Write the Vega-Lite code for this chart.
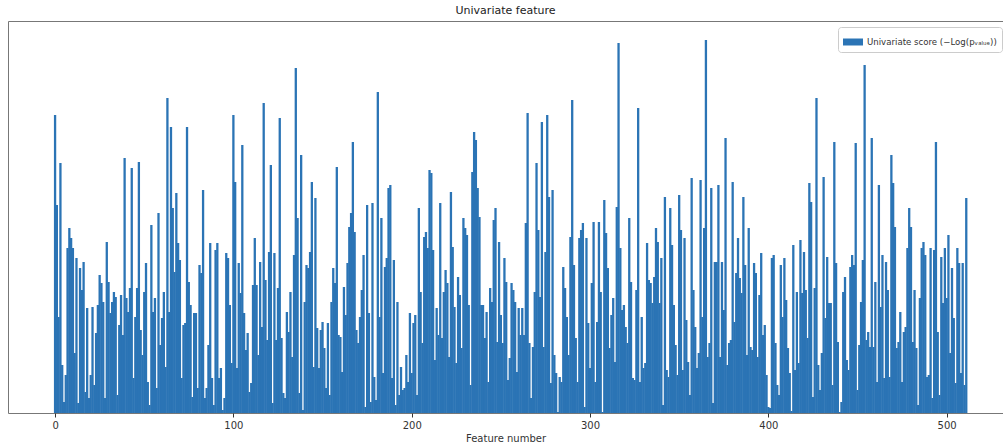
{
 "$schema": "https://vega.github.io/schema/vega-lite/v6.json",
 "width": 995,
 "height": 392,
 "autosize": {"type": "none"},
 "padding": {"left": 8, "top": 21, "right": 0, "bottom": 33},
 "background": "white",
 "title": {"text": "Univariate feature", "fontSize": 11, "font": "DejaVu Sans", "fontWeight": "normal", "color": "#222", "offset": 5},
 "data": {"values": [
{"feature":0,"score":298},{"feature":1,"score":208},{"feature":2,"score":96},{"feature":3,"score":250},{"feature":4,"score":48},{"feature":5,"score":11},{"feature":6,"score":38},{"feature":7,"score":165},{"feature":8,"score":185},{"feature":9,"score":175},
{"feature":10,"score":165},{"feature":11,"score":60},{"feature":12,"score":155},{"feature":13,"score":10},{"feature":14,"score":145},{"feature":15,"score":123},{"feature":16,"score":151},{"feature":17,"score":21},{"feature":18,"score":105},{"feature":19,"score":15},
{"feature":20,"score":38},{"feature":21,"score":106},{"feature":22,"score":28},{"feature":23,"score":80},{"feature":24,"score":108},{"feature":25,"score":138},{"feature":26,"score":130},{"feature":27,"score":111},{"feature":28,"score":15},{"feature":29,"score":171},
{"feature":30,"score":131},{"feature":31,"score":100},{"feature":32,"score":111},{"feature":33,"score":121},{"feature":34,"score":116},{"feature":35,"score":18},{"feature":36,"score":88},{"feature":37,"score":118},{"feature":38,"score":78},{"feature":39,"score":255},
{"feature":40,"score":115},{"feature":41,"score":101},{"feature":42,"score":125},{"feature":43,"score":245},{"feature":44,"score":35},{"feature":45,"score":96},{"feature":46,"score":125},{"feature":47,"score":251},{"feature":48,"score":83},{"feature":49,"score":58},
{"feature":50,"score":121},{"feature":51,"score":150},{"feature":52,"score":31},{"feature":53,"score":8},{"feature":54,"score":188},{"feature":55,"score":101},{"feature":56,"score":115},{"feature":57,"score":25},{"feature":58,"score":200},{"feature":59,"score":68},
{"feature":60,"score":95},{"feature":61,"score":121},{"feature":62,"score":46},{"feature":63,"score":315},{"feature":64,"score":101},{"feature":65,"score":286},{"feature":66,"score":205},{"feature":67,"score":141},{"feature":68,"score":220},{"feature":69,"score":170},
{"feature":70,"score":153},{"feature":71,"score":35},{"feature":72,"score":88},{"feature":73,"score":90},{"feature":74,"score":286},{"feature":75,"score":131},{"feature":76,"score":108},{"feature":77,"score":16},{"feature":78,"score":100},{"feature":79,"score":100},
{"feature":80,"score":25},{"feature":81,"score":148},{"feature":82,"score":140},{"feature":83,"score":223},{"feature":84,"score":15},{"feature":85,"score":25},{"feature":86,"score":68},{"feature":87,"score":170},{"feature":88,"score":35},{"feature":89,"score":8},
{"feature":90,"score":163},{"feature":91,"score":170},{"feature":92,"score":35},{"feature":93,"score":45},{"feature":94,"score":3},{"feature":95,"score":15},{"feature":96,"score":160},{"feature":97,"score":155},{"feature":98,"score":108},{"feature":99,"score":50},
{"feature":100,"score":298},{"feature":101,"score":231},{"feature":102,"score":45},{"feature":103,"score":150},{"feature":104,"score":120},{"feature":105,"score":268},{"feature":106,"score":100},{"feature":107,"score":63},{"feature":108,"score":80},{"feature":109,"score":21},
{"feature":110,"score":30},{"feature":111,"score":128},{"feature":112,"score":175},{"feature":113,"score":128},{"feature":114,"score":58},{"feature":115,"score":151},{"feature":116,"score":86},{"feature":117,"score":310},{"feature":118,"score":133},{"feature":119,"score":73},
{"feature":120,"score":161},{"feature":121,"score":248},{"feature":122,"score":10},{"feature":123,"score":160},{"feature":124,"score":73},{"feature":125,"score":125},{"feature":126,"score":295},{"feature":127,"score":75},{"feature":128,"score":20},{"feature":129,"score":15},
{"feature":130,"score":101},{"feature":131,"score":81},{"feature":132,"score":121},{"feature":133,"score":56},{"feature":134,"score":158},{"feature":135,"score":345},{"feature":136,"score":195},{"feature":137,"score":20},{"feature":138,"score":258},{"feature":139,"score":3},
{"feature":140,"score":111},{"feature":141,"score":148},{"feature":142,"score":145},{"feature":143,"score":161},{"feature":144,"score":231},{"feature":145,"score":46},{"feature":146,"score":215},{"feature":147,"score":85},{"feature":148,"score":45},{"feature":149,"score":83},
{"feature":150,"score":91},{"feature":151,"score":65},{"feature":152,"score":25},{"feature":153,"score":90},{"feature":154,"score":18},{"feature":155,"score":111},{"feature":156,"score":145},{"feature":157,"score":130},{"feature":158,"score":246},{"feature":159,"score":78},
{"feature":160,"score":76},{"feature":161,"score":41},{"feature":162,"score":126},{"feature":163,"score":98},{"feature":164,"score":150},{"feature":165,"score":186},{"feature":166,"score":200},{"feature":167,"score":271},{"feature":168,"score":181},{"feature":169,"score":83},
{"feature":170,"score":70},{"feature":171,"score":96},{"feature":172,"score":123},{"feature":173,"score":158},{"feature":174,"score":6},{"feature":175,"score":208},{"feature":176,"score":100},{"feature":177,"score":11},{"feature":178,"score":210},{"feature":179,"score":36},
{"feature":180,"score":13},{"feature":181,"score":321},{"feature":182,"score":96},{"feature":183,"score":195},{"feature":184,"score":40},{"feature":185,"score":146},{"feature":186,"score":155},{"feature":187,"score":225},{"feature":188,"score":228},{"feature":189,"score":35},
{"feature":190,"score":153},{"feature":191,"score":8},{"feature":192,"score":111},{"feature":193,"score":18},{"feature":194,"score":46},{"feature":195,"score":23},{"feature":196,"score":25},{"feature":197,"score":58},{"feature":198,"score":31},{"feature":199,"score":100},
{"feature":200,"score":40},{"feature":201,"score":90},{"feature":202,"score":98},{"feature":203,"score":18},{"feature":204,"score":205},{"feature":205,"score":121},{"feature":206,"score":70},{"feature":207,"score":176},{"feature":208,"score":181},{"feature":209,"score":165},
{"feature":210,"score":243},{"feature":211,"score":240},{"feature":212,"score":163},{"feature":213,"score":53},{"feature":214,"score":105},{"feature":215,"score":78},{"feature":216,"score":210},{"feature":217,"score":75},{"feature":218,"score":121},{"feature":219,"score":143},
{"feature":220,"score":130},{"feature":221,"score":56},{"feature":222,"score":221},{"feature":223,"score":166},{"feature":224,"score":106},{"feature":225,"score":50},{"feature":226,"score":136},{"feature":227,"score":118},{"feature":228,"score":65},{"feature":229,"score":195},
{"feature":230,"score":185},{"feature":231,"score":178},{"feature":232,"score":108},{"feature":233,"score":28},{"feature":234,"score":241},{"feature":235,"score":281},{"feature":236,"score":273},{"feature":237,"score":225},{"feature":238,"score":196},{"feature":239,"score":108},
{"feature":240,"score":108},{"feature":241,"score":75},{"feature":242,"score":101},{"feature":243,"score":31},{"feature":244,"score":125},{"feature":245,"score":111},{"feature":246,"score":193},{"feature":247,"score":205},{"feature":248,"score":71},{"feature":249,"score":171},
{"feature":250,"score":98},{"feature":251,"score":70},{"feature":252,"score":155},{"feature":253,"score":131},{"feature":254,"score":33},{"feature":255,"score":55},{"feature":256,"score":130},{"feature":257,"score":123},{"feature":258,"score":111},{"feature":259,"score":41},
{"feature":260,"score":105},{"feature":261,"score":78},{"feature":262,"score":105},{"feature":263,"score":78},{"feature":264,"score":190},{"feature":265,"score":300},{"feature":266,"score":70},{"feature":267,"score":15},{"feature":268,"score":66},{"feature":269,"score":121},
{"feature":270,"score":250},{"feature":271,"score":183},{"feature":272,"score":116},{"feature":273,"score":291},{"feature":274,"score":66},{"feature":275,"score":161},{"feature":276,"score":298},{"feature":277,"score":216},{"feature":278,"score":30},{"feature":279,"score":223},
{"feature":280,"score":58},{"feature":281,"score":40},{"feature":282,"score":1},{"feature":283,"score":36},{"feature":284,"score":31},{"feature":285,"score":146},{"feature":286,"score":125},{"feature":287,"score":96},{"feature":288,"score":58},{"feature":289,"score":176},
{"feature":290,"score":313},{"feature":291,"score":148},{"feature":292,"score":75},{"feature":293,"score":31},{"feature":294,"score":175},{"feature":295,"score":183},{"feature":296,"score":190},{"feature":297,"score":6},{"feature":298,"score":175},{"feature":299,"score":90},
{"feature":300,"score":45},{"feature":301,"score":130},{"feature":302,"score":191},{"feature":303,"score":31},{"feature":304,"score":91},{"feature":305,"score":191},{"feature":306,"score":121},{"feature":307,"score":1},{"feature":308,"score":213},{"feature":309,"score":180},
{"feature":310,"score":145},{"feature":311,"score":65},{"feature":312,"score":98},{"feature":313,"score":115},{"feature":314,"score":51},{"feature":315,"score":206},{"feature":316,"score":370},{"feature":317,"score":165},{"feature":318,"score":103},{"feature":319,"score":108},
{"feature":320,"score":86},{"feature":321,"score":70},{"feature":322,"score":195},{"feature":323,"score":131},{"feature":324,"score":35},{"feature":325,"score":33},{"feature":326,"score":123},{"feature":327,"score":305},{"feature":328,"score":31},{"feature":329,"score":96},
{"feature":330,"score":45},{"feature":331,"score":50},{"feature":332,"score":170},{"feature":333,"score":133},{"feature":334,"score":130},{"feature":335,"score":110},{"feature":336,"score":136},{"feature":337,"score":185},{"feature":338,"score":171},{"feature":339,"score":110},
{"feature":340,"score":155},{"feature":341,"score":8},{"feature":342,"score":216},{"feature":343,"score":43},{"feature":344,"score":36},{"feature":345,"score":205},{"feature":346,"score":168},{"feature":347,"score":108},{"feature":348,"score":68},{"feature":349,"score":38},
{"feature":350,"score":218},{"feature":351,"score":183},{"feature":352,"score":43},{"feature":353,"score":175},{"feature":354,"score":93},{"feature":355,"score":51},{"feature":356,"score":18},{"feature":357,"score":235},{"feature":358,"score":123},{"feature":359,"score":86},
{"feature":360,"score":45},{"feature":361,"score":60},{"feature":362,"score":233},{"feature":363,"score":96},{"feature":364,"score":185},{"feature":365,"score":373},{"feature":366,"score":56},{"feature":367,"score":70},{"feature":368,"score":225},{"feature":369,"score":10},
{"feature":370,"score":151},{"feature":371,"score":151},{"feature":372,"score":228},{"feature":373,"score":56},{"feature":374,"score":151},{"feature":375,"score":103},{"feature":376,"score":275},{"feature":377,"score":48},{"feature":378,"score":70},{"feature":379,"score":73},
{"feature":380,"score":231},{"feature":381,"score":91},{"feature":382,"score":140},{"feature":383,"score":175},{"feature":384,"score":135},{"feature":385,"score":120},{"feature":386,"score":216},{"feature":387,"score":148},{"feature":388,"score":58},{"feature":389,"score":185},
{"feature":390,"score":66},{"feature":391,"score":63},{"feature":392,"score":150},{"feature":393,"score":140},{"feature":394,"score":56},{"feature":395,"score":118},{"feature":396,"score":160},{"feature":397,"score":78},{"feature":398,"score":88},{"feature":399,"score":38},
{"feature":400,"score":6},{"feature":401,"score":5},{"feature":402,"score":155},{"feature":403,"score":158},{"feature":404,"score":70},{"feature":405,"score":28},{"feature":406,"score":18},{"feature":407,"score":148},{"feature":408,"score":96},{"feature":409,"score":155},
{"feature":410,"score":113},{"feature":411,"score":65},{"feature":412,"score":40},{"feature":413,"score":2},{"feature":414,"score":168},{"feature":415,"score":43},{"feature":416,"score":121},{"feature":417,"score":50},{"feature":418,"score":173},{"feature":419,"score":120},
{"feature":420,"score":161},{"feature":421,"score":123},{"feature":422,"score":75},{"feature":423,"score":230},{"feature":424,"score":211},{"feature":425,"score":16},{"feature":426,"score":125},{"feature":427,"score":315},{"feature":428,"score":48},{"feature":429,"score":23},
{"feature":430,"score":60},{"feature":431,"score":236},{"feature":432,"score":95},{"feature":433,"score":156},{"feature":434,"score":110},{"feature":435,"score":110},{"feature":436,"score":28},{"feature":437,"score":271},{"feature":438,"score":150},{"feature":439,"score":71},
{"feature":440,"score":1},{"feature":441,"score":11},{"feature":442,"score":121},{"feature":443,"score":136},{"feature":444,"score":53},{"feature":445,"score":43},{"feature":446,"score":146},{"feature":447,"score":158},{"feature":448,"score":148},{"feature":449,"score":270},
{"feature":450,"score":23},{"feature":451,"score":68},{"feature":452,"score":111},{"feature":453,"score":153},{"feature":454,"score":348},{"feature":455,"score":73},{"feature":456,"score":81},{"feature":457,"score":66},{"feature":458,"score":275},{"feature":459,"score":66},
{"feature":460,"score":131},{"feature":461,"score":31},{"feature":462,"score":228},{"feature":463,"score":106},{"feature":464,"score":158},{"feature":465,"score":35},{"feature":466,"score":151},{"feature":467,"score":123},{"feature":468,"score":36},{"feature":469,"score":258},
{"feature":470,"score":230},{"feature":471,"score":186},{"feature":472,"score":65},{"feature":473,"score":71},{"feature":474,"score":101},{"feature":475,"score":31},{"feature":476,"score":81},{"feature":477,"score":86},{"feature":478,"score":165},{"feature":479,"score":205},
{"feature":480,"score":186},{"feature":481,"score":71},{"feature":482,"score":123},{"feature":483,"score":65},{"feature":484,"score":8},{"feature":485,"score":115},{"feature":486,"score":165},{"feature":487,"score":171},{"feature":488,"score":158},{"feature":489,"score":36},
{"feature":490,"score":38},{"feature":491,"score":165},{"feature":492,"score":15},{"feature":493,"score":163},{"feature":494,"score":271},{"feature":495,"score":81},{"feature":496,"score":18},{"feature":497,"score":156},{"feature":498,"score":110},{"feature":499,"score":165},
{"feature":500,"score":115},{"feature":501,"score":178},{"feature":502,"score":60},{"feature":503,"score":145},{"feature":504,"score":95},{"feature":505,"score":30},{"feature":506,"score":165},{"feature":507,"score":150},{"feature":508,"score":40},{"feature":509,"score":150},
{"feature":510,"score":28},{"feature":511,"score":215}
 ]},
 "mark": {"type": "bar", "size": 2.3},
 "encoding": {
  "x": {"field": "feature", "type": "quantitative",
        "scale": {"domain": [-26.4, 531.6], "nice": false, "zero": false, "padding": 0},
        "axis": {"values": [0, 100, 200, 300, 400, 500], "title": "Feature number", "domain": false, "grid": false,
                 "tickSize": 4, "tickColor": "#333", "labelFontSize": 10, "labelColor": "#333", "labelFont": "DejaVu Sans",
                 "titleFontSize": 10, "titleFontWeight": "normal", "titleColor": "#333", "titleFont": "DejaVu Sans",
                 "labelPadding": 3, "titlePadding": 3}},
  "y": {"field": "score", "type": "quantitative", "scale": {"domain": [0, 392], "nice": false, "padding": 0}, "axis": null},
  "color": {"datum": "Univariate score (−Log(pᵥₐₗᵤₑ))", "scale": {"range": ["#2b74b5"]},
            "legend": {"title": null, "orient": "none", "legendX": 830, "legendY": 6,
                       "symbolType": "M-1,-0.35H1V0.35H-1Z", "symbolSize": 400, "symbolStrokeWidth": 0,
                       "labelFontSize": 8.6, "labelFont": "DejaVu Sans", "labelColor": "#333", "labelLimit": 400,
                       "strokeColor": "#ccc", "fillColor": "white", "padding": 5, "cornerRadius": 3}}
 },
 "config": {"font": "DejaVu Sans", "view": {"stroke": "#777", "strokeWidth": 1}}
}
